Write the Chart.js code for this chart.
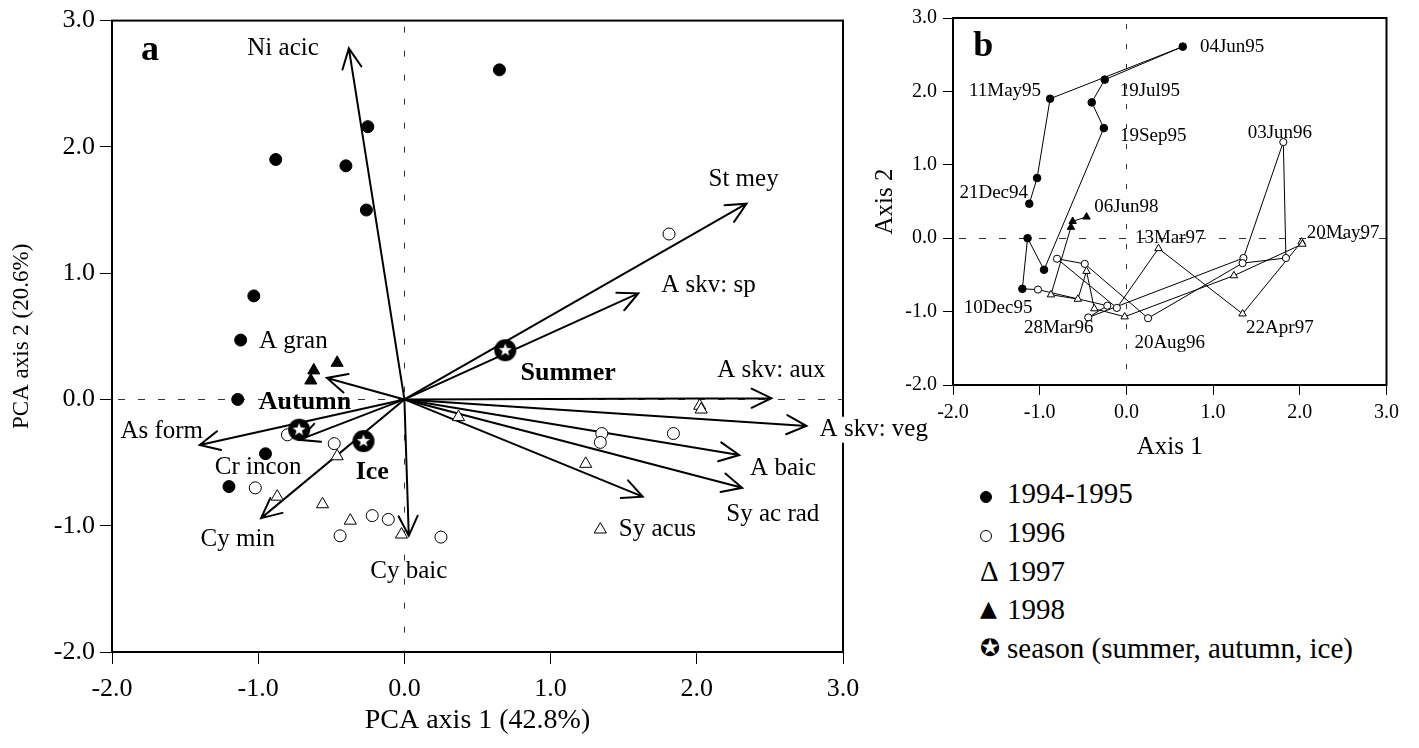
<!DOCTYPE html>
<html>
<head>
<meta charset="utf-8">
<script src="https://cdn.jsdelivr.net/npm/chart.js@4.4.0/dist/chart.umd.min.js"></script>
<style>
body { margin: 0; background: #fff; width: 1419px; height: 748px; overflow: hidden; position: relative; font-family: "Liberation Serif", serif; }
#wrapA { position: absolute; left: 0; top: 0; }
#wrapB { position: absolute; left: 860px; top: 0; }
#legend { position: absolute; left: 980px; top: 474px; font-size: 29px; color: #000; }
#legend > div { height: 38.75px; line-height: 38.75px; white-space: nowrap; }
#legend .sym { display: inline-block; width: 27px; text-align: left; vertical-align: top; }
#legend .dot { display: inline-block; width: 12px; height: 12px; border-radius: 50%; box-sizing: border-box; border: 1px solid #000; }
</style>
</head>
<body>
<div id="wrapA"><canvas id="pcaA" width="940" height="748"></canvas></div>
<div id="wrapB"><canvas id="pcaB" width="545" height="470"></canvas></div>
<div id="legend">
  <div><span class="sym"><span class="dot" style="background:#000"></span></span>1994-1995</div>
  <div><span class="sym"><span class="dot" style="background:#fff"></span></span>1996</div>
  <div><span class="sym">&#916;</span>1997</div>
  <div><span class="sym" style="font-size:22px;font-family:'DejaVu Sans'">&#9650;</span>1998</div>
  <div><span class="sym" style="font-size:24px;font-family:'DejaVu Sans'">&#10026;</span>season (summer, autumn, ice)</div>
</div>
<script>
// sample scores, in date order (the b panel joins them in this order)
const pts9495 = [[-1.12, 0.47], [-1.03, 0.82], [-0.88, 1.90], [0.65, 2.61], [-0.25, 2.16],
                 [-0.40, 1.85], [-0.26, 1.50], [-0.95, -0.43], [-1.14, 0.00], [-1.20, -0.69]];
const pts96 = [[-1.02, -0.70], [-0.22, -0.92], [-0.44, -1.08], [1.35, -0.27], [1.81, 1.31],
               [1.84, -0.27], [1.34, -0.34], [0.25, -1.09], [-0.48, -0.35], [-0.80, -0.28], [-0.11, -0.95]];
const pts97 = [[0.37, -0.14], [1.34, -1.03], [2.02, -0.05], [2.03, -0.08], [1.24, -0.51],
               [-0.02, -1.07], [-0.37, -0.96], [-0.46, -0.45], [-0.56, -0.83], [-0.87, -0.77]];
const pts98 = [[-0.64, 0.15], [-0.62, 0.23], [-0.46, 0.29]];

// season centroids
const seasonNames = ['Summer', 'Autumn', 'Ice'];
const seasonPts = [[0.69, 0.39], [-0.72, -0.24], [-0.28, -0.33]];

// species vectors (arrow tips)
const speciesNames = ['Ni acic', 'St mey', 'A skv: sp', 'A skv: aux', 'A skv: veg', 'A baic',
                      'Sy ac rad', 'Sy acus', 'A gran', 'As form', 'Cr incon', 'Cy min', 'Cy baic'];
const speciesPts = [[-0.38, 2.78], [2.34, 1.55], [1.60, 0.84], [2.51, 0.01], [2.75, -0.21], [2.29, -0.44],
                    [2.31, -0.70], [1.63, -0.77], [-0.53, 0.17], [-1.40, -0.36], [-0.72, -0.32], [-0.98, -0.94], [0.03, -1.08]];

// dates marked in panel b
const dateNames = ['04Jun95', '11May95', '19Jul95', '19Sep95', '21Dec94', '10Dec95', '28Mar96',
                   '20Aug96', '03Jun96', '13Mar97', '22Apr97', '20May97', '06Jun98'];

const tickVals = [-2, -1, 0, 1, 2, 3];

// ---- layout: where the text labels sit (data units) ----
const speciesLabelPos = [[-0.83, 2.78], [2.32, 1.74], [2.08, 0.90], [2.51, 0.23], [2.84, -0.24], [2.59, -0.55],
                         [2.52, -0.91], [1.73, -1.03], [-0.76, 0.46], [-1.66, -0.25], [-1.00, -0.54], [-1.14, -1.11], [0.03, -1.36]];
const seasonLabelPos = [[1.12, 0.21], [-0.68, -0.02], [-0.22, -0.58]];
const dateLabelPos = [[1.22, 2.61], [-1.40, 2.01], [0.27, 2.00], [0.31, 1.39], [-1.53, 0.62], [-1.48, -0.95], [-0.78, -1.23],
                      [0.50, -1.43], [1.77, 1.43], [0.50, 0.00], [1.77, -1.23], [2.50, 0.07], [0.00, 0.42]];

const SERIF = '"Liberation Serif", "Times New Roman", serif';
const toXY = arr => arr.map(p => ({ x: p[0], y: p[1] }));

// round black marker with a white star
function makeStar(r) {
    const c = document.createElement('canvas');
    c.width = c.height = 2 * r + 2;
    const g = c.getContext('2d');
    g.fillStyle = '#000';
    g.beginPath();
    g.arc(r + 1, r + 1, r, 0, 2 * Math.PI);
    g.fill();
    g.fillStyle = '#fff';
    g.beginPath();
    for (let i = 0; i < 10; i++) {
        const a = -Math.PI / 2 + i * Math.PI / 5;
        const rr = i % 2 ? r * 0.26 : r * 0.62;
        g.lineTo(r + 1 + rr * Math.cos(a), r + 1 + rr * Math.sin(a));
    }
    g.closePath();
    g.fill();
    return c;
}

function drawZeroLines(chart, dashV, dashH) {
    const { ctx, chartArea: a, scales: { x, y } } = chart;
    ctx.save();
    ctx.strokeStyle = '#333';
    ctx.lineWidth = 1;
    ctx.setLineDash(dashV);
    const x0 = Math.round(x.getPixelForValue(0)) + 0.5;
    ctx.beginPath(); ctx.moveTo(x0, a.top + 6); ctx.lineTo(x0, a.bottom); ctx.stroke();
    ctx.setLineDash(dashH);
    const y0 = Math.round(y.getPixelForValue(0)) + 0.5;
    ctx.beginPath(); ctx.moveTo(a.left + 6, y0); ctx.lineTo(a.right, y0); ctx.stroke();
    ctx.restore();
}

function drawBox(chart, w) {
    const { ctx, chartArea: a } = chart;
    ctx.save();
    ctx.strokeStyle = '#000';
    ctx.lineWidth = w;
    ctx.strokeRect(a.left, a.top, a.right - a.left, a.bottom - a.top);
    ctx.restore();
}

function axisOpts(min, max, fontSize, pad, tickLen, titleText, titleSize, titlePad) {
    return {
        type: 'linear', min: min, max: max,
        afterBuildTicks: s => { s.ticks = tickVals.map(v => ({ value: v })); },
        ticks: { color: '#000', font: { family: SERIF, size: fontSize }, padding: pad, callback: v => v.toFixed(1) },
        grid: { display: true, drawOnChartArea: false, drawTicks: true, tickLength: tickLen, tickColor: '#000', lineWidth: 1 },
        border: { display: false },
        title: { display: true, text: titleText, color: '#000', font: { family: SERIF, size: titleSize }, padding: titlePad }
    };
}

// ---------------- panel a: biplot ----------------
const biplotPlugin = {
    id: 'biplot',
    beforeDatasetsDraw(chart) {
        drawZeroLines(chart, [6, 18], [7, 13]);
        const { ctx, scales: { x, y } } = chart;
        const ox = x.getPixelForValue(0), oy = y.getPixelForValue(0);
        ctx.save();
        ctx.strokeStyle = '#000';
        ctx.lineWidth = 2;
        ctx.lineCap = 'round';
        speciesPts.forEach(p => {
            const tx = x.getPixelForValue(p[0]), ty = y.getPixelForValue(p[1]);
            const ang = Math.atan2(ty - oy, tx - ox);
            const hl = 22, ha = 0.45;
            ctx.beginPath();
            ctx.moveTo(ox, oy); ctx.lineTo(tx, ty);
            ctx.moveTo(tx - hl * Math.cos(ang - ha), ty - hl * Math.sin(ang - ha));
            ctx.lineTo(tx, ty);
            ctx.lineTo(tx - hl * Math.cos(ang + ha), ty - hl * Math.sin(ang + ha));
            ctx.stroke();
        });
        ctx.restore();
    },
    afterDraw(chart) {
        const { ctx, scales: { x, y } } = chart;
        drawBox(chart, 2);
        ctx.save();
        ctx.fillStyle = '#000';
        ctx.textBaseline = 'middle';
        ctx.font = '25px ' + SERIF;
        speciesNames.forEach((name, i) => {
            const px = x.getPixelForValue(speciesLabelPos[i][0]), py = y.getPixelForValue(speciesLabelPos[i][1]);
            if (name === 'A skv: veg') {
                ctx.textAlign = 'left';
                const w = ctx.measureText(name).width;
                ctx.fillStyle = '#fff';
                ctx.fillRect(px - 2, py - 13, w + 4, 26);
                ctx.fillStyle = '#000';
            } else {
                ctx.textAlign = 'center';
            }
            ctx.fillText(name, px, py);
        });
        ctx.textAlign = 'center';
        ctx.font = 'bold 26px ' + SERIF;
        seasonNames.forEach((name, i) => {
            ctx.fillText(name, x.getPixelForValue(seasonLabelPos[i][0]), y.getPixelForValue(seasonLabelPos[i][1]));
        });
        ctx.font = 'bold 36px ' + SERIF;
        ctx.fillText('a', x.getPixelForValue(-1.74), y.getPixelForValue(2.76));
        ctx.restore();
    }
};

new Chart(document.getElementById('pcaA'), {
    type: 'scatter',
    data: {
        datasets: [
            { label: 'season', data: toXY(seasonPts), pointStyle: makeStar(11), pointRadius: 12 },
            { label: '1994-1995', data: toXY(pts9495), pointStyle: 'circle', pointRadius: 6, backgroundColor: '#000', borderColor: '#000', borderWidth: 1 },
            { label: '1996', data: toXY(pts96), pointStyle: 'circle', pointRadius: 6, backgroundColor: '#fff', borderColor: '#000', borderWidth: 1 },
            { label: '1997', data: toXY(pts97), pointStyle: 'triangle', pointRadius: 7, backgroundColor: '#fff', borderColor: '#000', borderWidth: 1 },
            { label: '1998', data: toXY(pts98), pointStyle: 'triangle', pointRadius: 7, backgroundColor: '#000', borderColor: '#000', borderWidth: 1 }
        ]
    },
    options: {
        responsive: false,
        animation: false,
        layout: { padding: { left: 0, right: 97, top: 14, bottom: 6 } },
        plugins: { legend: { display: false }, tooltip: { enabled: false } },
        scales: {
            x: Object.assign(axisOpts(-2, 3, 26, 10, 12, 'PCA axis 1 (42.8%)', 28, { top: 0, bottom: 5 }),
                { afterFit: s => { s.height = 90; } }),
            y: Object.assign(axisOpts(-2, 3, 26, 5, 12, 'PCA axis 2 (20.6%)', 23, { top: 8, bottom: 0 }),
                { afterFit: s => { s.width = 112; } })
        }
    },
    plugins: [biplotPlugin]
});

// ---------------- panel b: time track ----------------
const trackPlugin = {
    id: 'track',
    beforeDatasetsDraw(chart) {
        drawZeroLines(chart, [5, 15], [7, 13]);
    },
    afterDraw(chart) {
        const { ctx, scales: { x, y } } = chart;
        drawBox(chart, 2);
        ctx.save();
        ctx.fillStyle = '#000';
        ctx.textBaseline = 'middle';
        ctx.textAlign = 'center';
        ctx.font = '19px ' + SERIF;
        dateNames.forEach((name, i) => {
            ctx.fillText(name, x.getPixelForValue(dateLabelPos[i][0]), y.getPixelForValue(dateLabelPos[i][1]));
        });
        ctx.font = 'bold 36px ' + SERIF;
        ctx.fillText('b', x.getPixelForValue(-1.65), y.getPixelForValue(2.61));
        ctx.restore();
    }
};

new Chart(document.getElementById('pcaB'), {
    type: 'scatter',
    data: {
        datasets: [
            { label: '1994-1995', data: toXY(pts9495), pointStyle: 'circle', pointRadius: 3.8, backgroundColor: '#000', borderColor: '#000', borderWidth: 1 },
            { label: '1996', data: toXY(pts96), pointStyle: 'circle', pointRadius: 3.6, backgroundColor: '#fff', borderColor: '#000', borderWidth: 1 },
            { label: '1997', data: toXY(pts97), pointStyle: 'triangle', pointRadius: 4.3, backgroundColor: '#fff', borderColor: '#000', borderWidth: 1 },
            { label: '1998', data: toXY(pts98), pointStyle: 'triangle', pointRadius: 4.3, backgroundColor: '#000', borderColor: '#000', borderWidth: 1 },
            { label: 'track', data: toXY([...pts9495, ...pts96, ...pts97, ...pts98]), showLine: true, pointRadius: 0,
              borderColor: '#000', borderWidth: 1, tension: 0, order: 10 }
        ]
    },
    options: {
        responsive: false,
        animation: false,
        layout: { padding: { left: 0, right: 13, top: 14, bottom: 5 } },
        plugins: { legend: { display: false }, tooltip: { enabled: false } },
        scales: {
            x: Object.assign(axisOpts(-2, 3, 20, 6, 10, 'Axis 1', 25, { top: 0, bottom: 3 }),
                { afterFit: s => { s.height = 80; } }),
            y: Object.assign(axisOpts(-2, 3, 20, 6, 10, 'Axis 2', 25, { top: 10, bottom: 0 }),
                { afterFit: s => { s.width = 93; } })
        }
    },
    plugins: [trackPlugin]
});
</script>
</body>
</html>
